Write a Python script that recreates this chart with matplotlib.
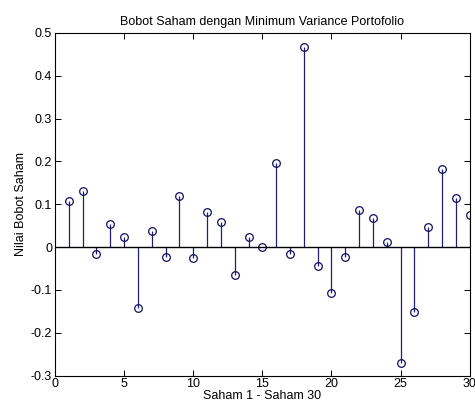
import matplotlib
matplotlib.use("Agg")
import matplotlib.pyplot as plt
import numpy as np

plt.rcParams['font.family'] = ['Liberation Sans', 'DejaVu Sans']

saham = list(range(1, 31))
bobot = [0.108, 0.131, -0.015, 0.055, 0.024, -0.141, 0.038, -0.023, 0.119, -0.026,
         0.081, 0.059, -0.065, 0.024, 0.000, 0.197, -0.016, 0.468, -0.044, -0.107,
         -0.023, 0.086, 0.069, 0.013, -0.270, -0.151, 0.048, 0.182, 0.114, 0.076]
xticks = [0, 5, 10, 15, 20, 25, 30]
yticks = [-0.3, -0.2, -0.1, 0, 0.1, 0.2, 0.3, 0.4, 0.5]
ytick_labels = ['-0.3', '-0.2', '-0.1', '0', '0.1', '0.2', '0.3', '0.4', '0.5']

fig = plt.figure(figsize=(4.75, 4.07), dpi=100)
ax = fig.add_axes([0.1158, 0.077, 0.873, 0.842])

line_color = '#202070'
ml, sl, bl = ax.stem(saham, bobot, basefmt='k-')
plt.setp(sl, color=line_color, linewidth=0.9)
plt.setp(ml, marker='o', markersize=5.5, markerfacecolor='none',
         markeredgecolor='#101060', markeredgewidth=0.9)
plt.setp(bl, color='black', linewidth=1.0)
bl.set_xdata([0, 30])

ax.set_xlim(0, 30)
ax.set_ylim(-0.3, 0.5)
ax.set_xticks(xticks)
ax.set_xticklabels([str(t) for t in xticks])
ax.set_yticks(yticks)
ax.set_yticklabels(ytick_labels)
ax.tick_params(direction='in', top=True, right=True, labelsize=9, length=4, width=0.7, pad=2)
for s in ax.spines.values():
    s.set_linewidth(0.8)

ax.set_title('Bobot Saham dengan Minimum Variance Portofolio', fontsize=9, pad=6)
ax.set_xlabel('Saham 1 - Saham 30', fontsize=9, labelpad=0)
ax.set_ylabel('Nilai Bobot Saham', fontsize=9, labelpad=3)

fig.savefig('out.png', dpi=100)
